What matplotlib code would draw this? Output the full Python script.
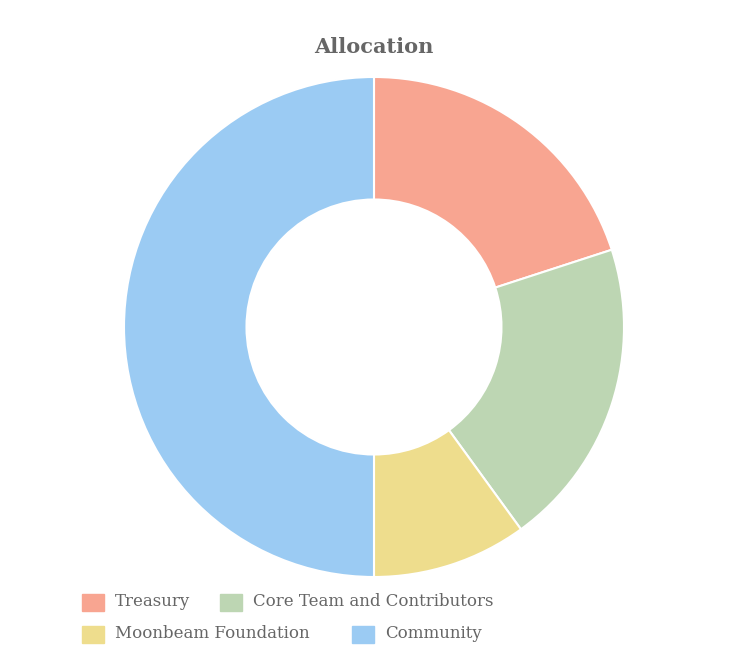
import matplotlib
matplotlib.use("Agg")
import matplotlib.pyplot as plt
from matplotlib.patches import Patch

labels = ["Treasury", "Core Team and Contributors", "Moonbeam Foundation", "Community"]
values = [20, 20, 10, 50]
colors = ["#f8a591", "#bdd6b3", "#eedd8d", "#9bcbf3"]

fig = plt.figure(figsize=(7.34, 6.71), dpi=100)
W, H = 734, 671
cx, cy, r = 374, 327, 250
ax = fig.add_axes([(cx - r) / W, 1 - (cy + r) / H, 2 * r / W, 2 * r / H])
ax.pie(values, colors=colors, startangle=90, counterclock=False,
       radius=1.0, wedgeprops=dict(width=0.49, edgecolor="white", linewidth=1.5))
ax.set_xlim(-1, 1); ax.set_ylim(-1, 1); ax.set_aspect("equal"); ax.axis("off")

fig.text(cx / W, 1 - 47 / H, "Allocation", ha="center", va="center",
         fontsize=15, fontweight="bold", color="#666666", family="DejaVu Serif")

font = dict(family="DejaVu Serif", size=12.5)
rows = [(602, [(82, 0), (220, 1)]), (634, [(82, 2), (352, 3)])]
for y, items in rows:
    for x, i in items:
        fig.patches.append(plt.Rectangle((x / W, 1 - (y + 9) / H), 22 / W, 17 / H,
                                         transform=fig.transFigure, color=colors[i]))
        fig.text((x + 33) / W, 1 - y / H, labels[i], va="center", ha="left",
                 color="#666666", fontfamily="DejaVu Serif", fontsize=12)

fig.savefig("out.png", dpi=100, facecolor="white")
